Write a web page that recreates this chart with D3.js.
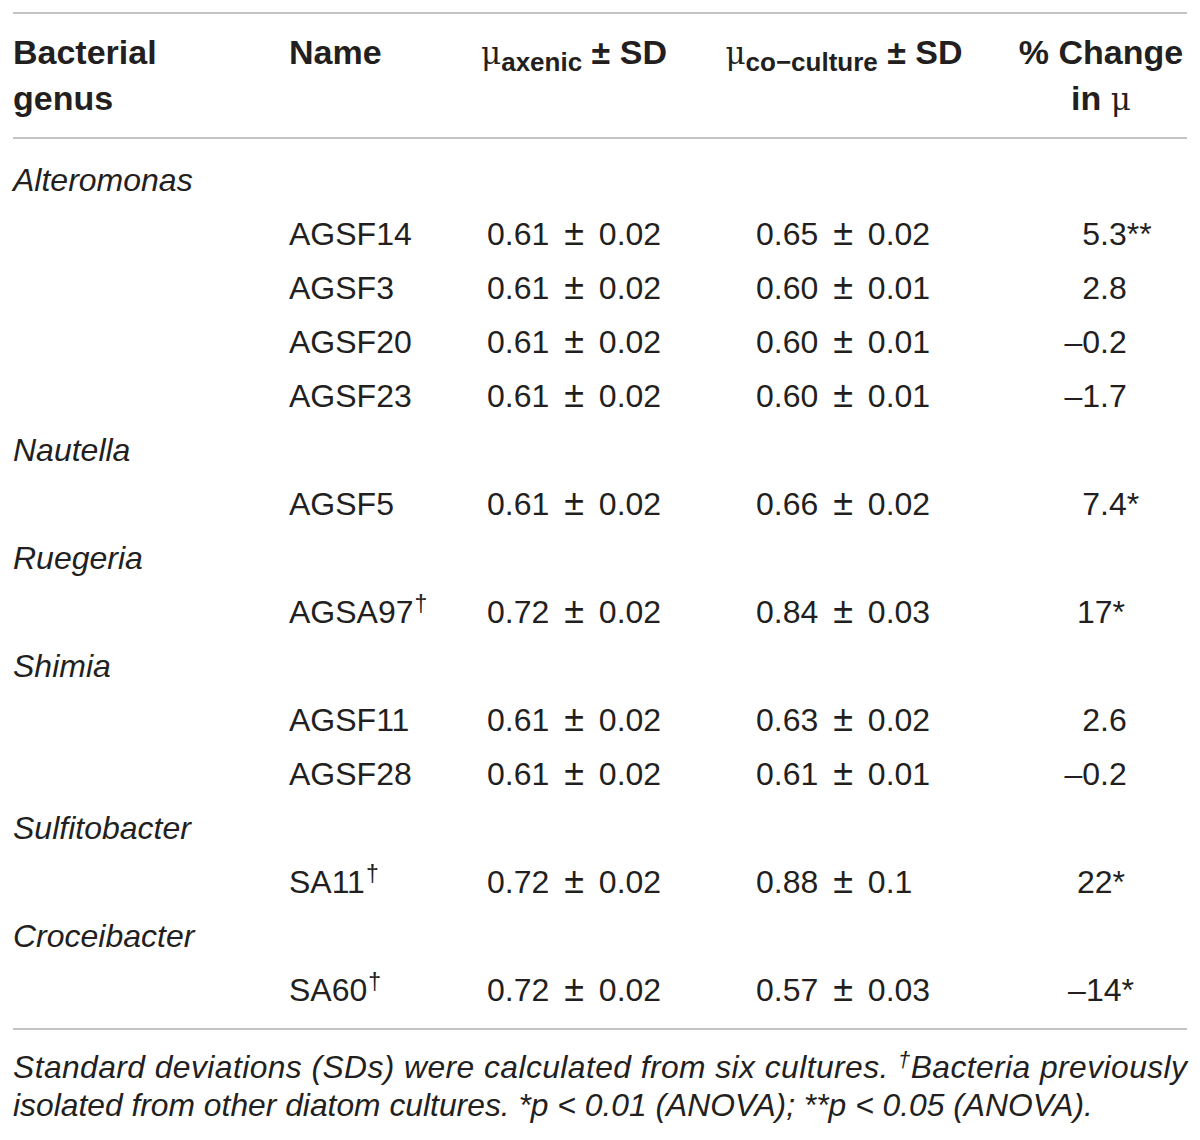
<!DOCTYPE html>
<html>
<head>
<meta charset="utf-8">
<script src="https://cdn.jsdelivr.net/npm/d3@7"></script>
<style>
  body { margin: 0; background: #fff; }
  svg { display: block; font-family: "Liberation Sans", Arial, Helvetica, sans-serif; }
</style>
</head>
<body>
<svg id="table" width="1200" height="1140"></svg>
<script>
// table data
const genera = ["Alteromonas", "Nautella", "Ruegeria", "Shimia", "Sulfitobacter", "Croceibacter"];
const strainNames = ["AGSF14", "AGSF3", "AGSF20", "AGSF23", "AGSF5", "AGSA97", "AGSF11", "AGSF28", "SA11", "SA60"];
const strainGenus = ["Alteromonas", "Alteromonas", "Alteromonas", "Alteromonas", "Nautella", "Ruegeria", "Shimia", "Shimia", "Sulfitobacter", "Croceibacter"];
const fromOtherCultures = [false, false, false, false, false, true, false, false, true, true];
const muAxenic = ["0.61", "0.61", "0.61", "0.61", "0.61", "0.72", "0.61", "0.61", "0.72", "0.72"];
const muAxenicSD = ["0.02", "0.02", "0.02", "0.02", "0.02", "0.02", "0.02", "0.02", "0.02", "0.02"];
const muCo = ["0.65", "0.60", "0.60", "0.60", "0.66", "0.84", "0.63", "0.61", "0.88", "0.57"];
const muCoSD = ["0.02", "0.01", "0.01", "0.01", "0.02", "0.03", "0.02", "0.01", "0.1", "0.03"];
const pctChange = [5.3, 2.8, -0.2, -1.7, 7.4, 17, 2.6, -0.2, 22, -14];
const significance = ["**", "", "", "", "*", "*", "", "", "*", "*"];

const svg = d3.select("#table");
const ink = "#231f20";
const ruleColor = "#c4c4c4";
const bodySize = 32;
const headSize = 34;

// column positions
const colGenus = 13, colName = 289, colAx = 487, colCo = 756, colPct = 1101;

// build the row list: genus line followed by its strains
const rows = [];
genera.forEach(g => {
  rows.push({ type: "genus", label: g });
  strainNames.forEach((n, i) => {
    if (strainGenus[i] === g) rows.push({ type: "strain", i });
  });
});

const y = d3.scalePoint().domain(d3.range(rows.length)).range([180, 990]);

// rules
const rules = [13, 138, 1029];
svg.selectAll("line.rule")
  .data(rules)
  .join("line")
  .attr("class", "rule")
  .attr("x1", 13).attr("x2", 1187)
  .attr("y1", d => d).attr("y2", d => d)
  .attr("stroke", ruleColor)
  .attr("stroke-width", 2);

// header
const head = svg.append("g")
  .attr("fill", ink)
  .attr("font-size", headSize)
  .attr("font-weight", "bold");

const h1 = 52, h2 = 98;
head.append("text").attr("x", colGenus).attr("y", h1).attr("dy", "0.35em").text("Bacterial");
head.append("text").attr("x", colGenus).attr("y", h2).attr("dy", "0.35em").text("genus");
head.append("text").attr("x", colName).attr("y", h1).attr("dy", "0.35em").text("Name");

function muHeader(x, sub) {
  const t = head.append("text").attr("x", x).attr("y", h1).attr("dy", "0.35em")
    .attr("text-anchor", "middle");
  t.append("tspan").attr("font-weight", "normal").attr("font-family", "DejaVu Serif, serif")
    .attr("font-size", 31).text("μ");
  t.append("tspan").attr("font-size", 26).attr("dy", 7).text(sub);
  t.append("tspan").attr("dy", -7).text(" ± SD");
}
muHeader(574, "axenic");
muHeader(844, "co\u2212culture");

head.append("text").attr("x", colPct).attr("y", h1).attr("dy", "0.35em")
  .attr("text-anchor", "middle").text("% Change");
const inMu = head.append("text").attr("x", colPct).attr("y", h2).attr("dy", "0.35em")
  .attr("text-anchor", "middle");
inMu.append("tspan").text("in ");
inMu.append("tspan").attr("font-weight", "normal").attr("font-family", "DejaVu Serif, serif")
  .attr("font-size", 31).text("μ");

// body rows
const body = svg.append("g").attr("fill", ink).attr("font-size", bodySize);

const rowG = body.selectAll("g.row")
  .data(rows)
  .join("g")
  .attr("class", "row")
  .attr("transform", (d, k) => `translate(0,${y(k)})`);

rowG.filter(d => d.type === "genus")
  .append("text")
  .attr("x", colGenus).attr("dy", "0.35em")
  .attr("font-style", "italic")
  .text(d => d.label);

const strainRows = rowG.filter(d => d.type === "strain");

const nameText = strainRows.append("text").attr("x", colName).attr("dy", "0.35em");
nameText.append("tspan").text(d => strainNames[d.i]);
nameText.filter(d => fromOtherCultures[d.i])
  .append("tspan").attr("font-size", 23).attr("dy", -11).attr("dx", 1).text("†");

// mean ± SD cells
function meanSD(sel, x, means, sds) {
  const t = sel.append("text").attr("x", x).attr("dy", "0.35em").attr("word-spacing", 6);
  t.append("tspan").text(d => means[d.i] + " ");
  t.append("tspan").attr("font-size", 36).text("±");
  t.append("tspan").text(d => " " + sds[d.i]);
}
meanSD(strainRows, colAx, muAxenic, muAxenicSD);
meanSD(strainRows, colCo, muCo, muCoSD);

// % change: decimals aligned on the point, whole numbers centred
const fmtPct = v => (v < 0 ? "\u2013" : "") + String(Math.abs(v));
const isWhole = v => Number.isInteger(v);

strainRows.filter(d => isWhole(pctChange[d.i]))
  .append("text").attr("x", colPct).attr("dy", "0.35em")
  .attr("text-anchor", "middle")
  .text(d => fmtPct(pctChange[d.i]) + significance[d.i]);

const decRows = strainRows.filter(d => !isWhole(pctChange[d.i]));
decRows.append("text").attr("x", colPct - 1).attr("dy", "0.35em")
  .attr("text-anchor", "end")
  .text(d => fmtPct(pctChange[d.i]).split(".")[0]);
decRows.append("text").attr("x", colPct - 1).attr("dy", "0.35em")
  .text(d => "." + fmtPct(pctChange[d.i]).split(".")[1] + significance[d.i]);

// footnote
const foot = svg.append("g").attr("fill", ink).attr("font-size", 31.8).attr("font-style", "italic");
const f1 = foot.append("text").attr("x", 13).attr("y", 1067).attr("dy", "0.35em")
  .attr("textLength", 1174).attr("lengthAdjust", "spacing");
f1.append("tspan").text("Standard deviations (SDs) were calculated from six cultures. ");
f1.append("tspan").attr("font-size", 22).attr("dy", -11).text("†");
f1.append("tspan").attr("dy", 11).text("Bacteria previously");
foot.append("text").attr("x", 13).attr("y", 1105).attr("dy", "0.35em")
  .text("isolated from other diatom cultures. *p < 0.01 (ANOVA); **p < 0.05 (ANOVA).");
</script>
</body>
</html>
